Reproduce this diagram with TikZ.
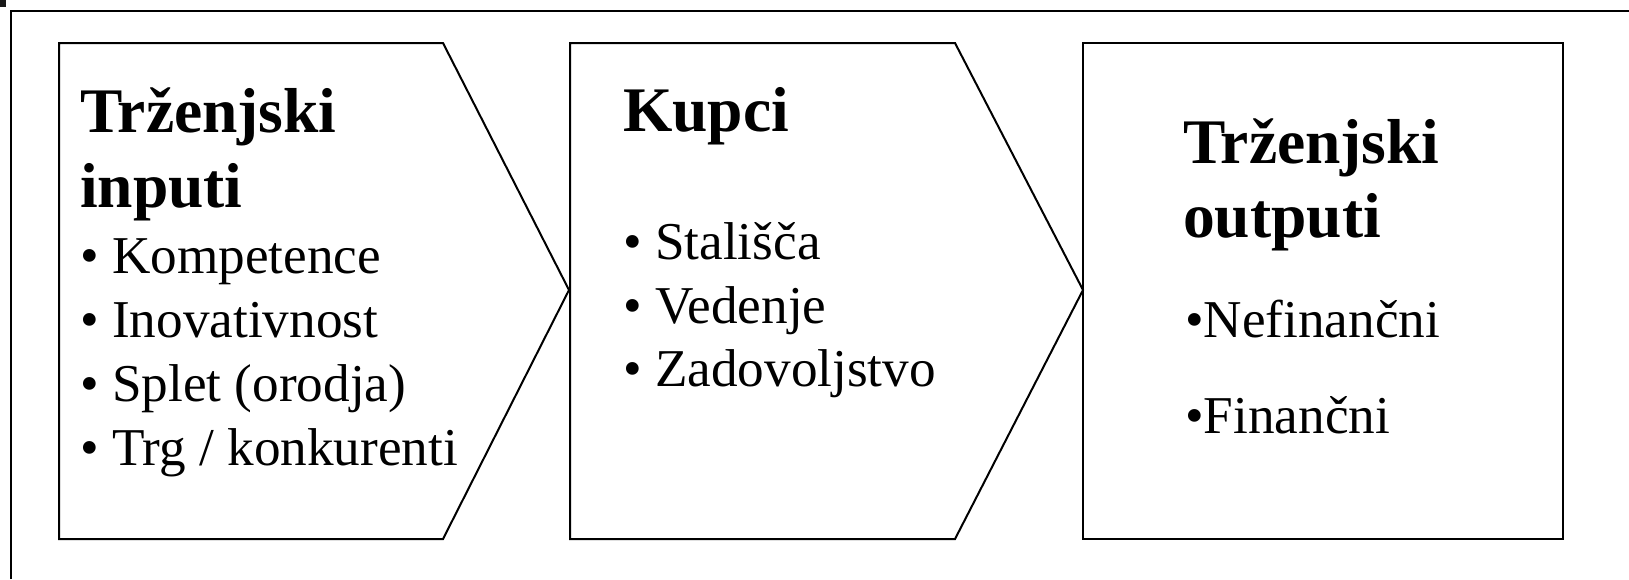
\documentclass[tikz,border=0pt]{standalone}
\usepackage{fontspec}
\setmainfont{Liberation Serif}
\begin{document}
\begin{tikzpicture}[x=1pt,y=-1pt,
  outline/.style={draw=black,line width=2pt,line join=miter},
  frame/.style={draw=black,line width=2.2pt},
  title/.style={anchor=base west,inner sep=0pt,font=\fontsize{63.5}{74}\selectfont\bfseries},
  item/.style={anchor=base west,inner sep=0pt,font=\fontsize{53.2}{64}\selectfont}]
\useasboundingbox (0,0) rectangle (1629,579);
% corner mark and outer frame
\fill[black!90] (0,0) rectangle (6,7);
\draw[frame] (11,579) -- (11,11) -- (1629,11);
% shapes
\draw[outline] (59,43) -- (443,43) -- (569,290) -- (443,539) -- (59,539) -- cycle;
\draw[outline] (570,43) -- (955,43) -- (1083,290) -- (955,539) -- (570,539) -- cycle;
\draw[outline] (1083,43) rectangle (1563,539);
% box 1 text
\node[title] (t1a) at (80,132) {Trženjski};
\node[title] (t1b) at (80,207) {inputi};
\node[item] (i1a) at (80,273) {• Kompetence};
\node[item] (i1b) at (80,337) {• Inovativnost};
\node[item] (i1c) at (80,401) {• Splet (orodja)};
\node[item] (i1d) at (80,465) {• Trg / konkurenti};
% box 2 text
\node[title] (t2) at (623,131) {Kupci};
\node[item] (i2a) at (623,259) {• Stališča};
\node[item] (i2b) at (623,323) {• Vedenje};
\node[item] (i2c) at (623,386) {• Zadovoljstvo};
% box 3 text
\node[title] (t3a) at (1183,163) {Trženjski};
\node[title] (t3b) at (1183,237) {outputi};
\node[item] (i3a) at (1185,337) {•Nefinančni};
\node[item] (i3b) at (1185,433) {•Finančni};
\end{tikzpicture}
\end{document}
